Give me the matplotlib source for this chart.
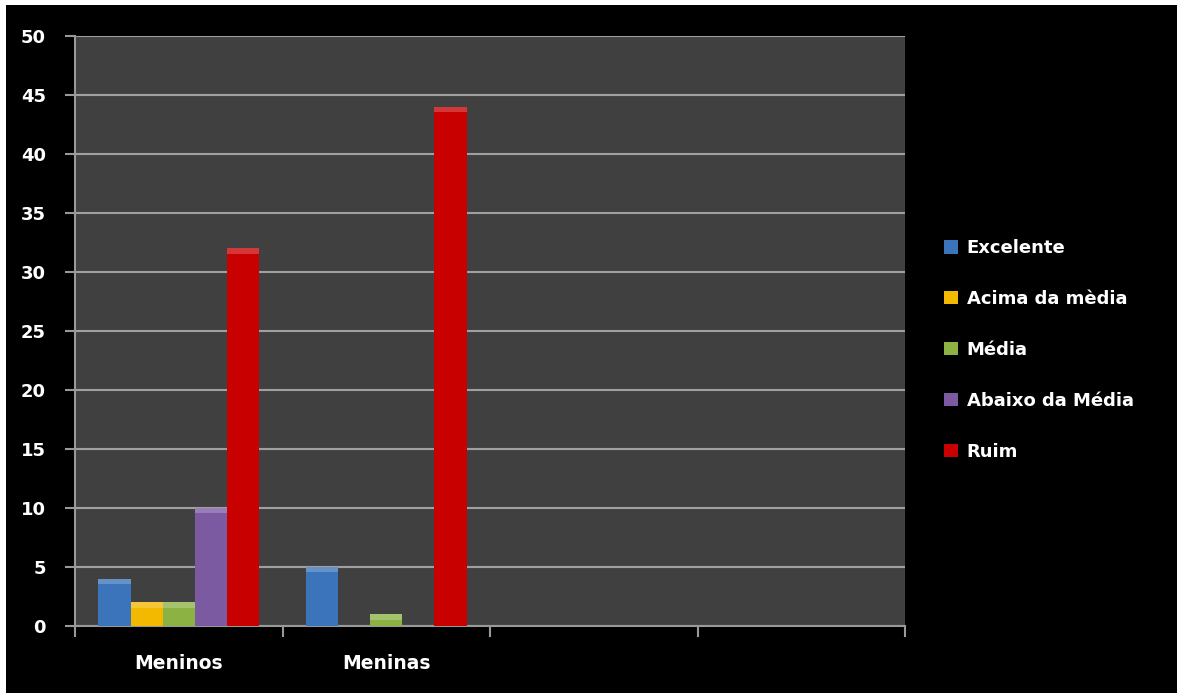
import numpy as np
import matplotlib.pyplot as plt
from matplotlib.patches import Rectangle

categories = ['Meninos', 'Meninas', '', '']
series = ['Excelente', 'Acima da mèdia', 'Média', 'Abaixo da Média', 'Ruim']
excelente = [4, 5, 0, 0]
acima = [2, 0, 0, 0]
media = [2, 1, 0, 0]
abaixo = [10, 0, 0, 0]
ruim = [32, 44, 0, 0]
values = [excelente, acima, media, abaixo, ruim]
colors = ['#3b74ba', '#f3b800', '#8cb244', '#7b5aa2', '#c90000']
yticks = [0, 5, 10, 15, 20, 25, 30, 35, 40, 45, 50]

fig = plt.figure(figsize=(11.77, 6.93), dpi=100, facecolor='white')
fig.patches.append(Rectangle((6 / 1177, 0), 1, 1 - 5 / 693, transform=fig.transFigure,
                             facecolor='black', edgecolor='none', zorder=-1))

ax = fig.add_axes([75 / 1177, 1 - 626 / 693, 830 / 1177, 590 / 693])
ax.set_facecolor('#404040')

x = np.arange(len(categories))
w = 0.155
bars = []
for i, (vals, c) in enumerate(zip(values, colors)):
    pos = x + (i - 2) * w
    v = np.array(vals, dtype=float)
    b = ax.bar(pos, v, width=w, color=c, edgecolor='none', zorder=3)
    bars.append(b)
    # thin light cap for the bevelled look
    cap = np.where(v > 0, np.minimum(v, 0.45), 0)
    ax.bar(pos, cap, bottom=v - cap, width=w, color='white', alpha=0.22,
           edgecolor='none', zorder=4)

ax.set_xlim(-0.5, 3.5)
ax.set_ylim(0, 50)
ax.set_yticks(yticks)
ax.set_yticklabels([str(t) for t in yticks], color='white', fontsize=13, fontweight='bold')
ax.set_xticks(np.arange(-0.5, 4, 1))
ax.set_xticklabels([])
ax.set_xticks(x, minor=True)
ax.set_xticklabels(categories, minor=True, color='white', fontsize=13.5, fontweight='bold')
ax.tick_params(axis='x', which='minor', length=0, pad=20)
ax.tick_params(axis='x', which='major', length=8, color='#999999', width=1.5)
ax.tick_params(axis='y', length=7, color='#999999', width=1.5, pad=14)
ax.yaxis.grid(True, color='#a0a0a0', linewidth=1.5, zorder=1)
ax.set_axisbelow(True)
for s in ['top', 'right']:
    ax.spines[s].set_visible(False)
for s in ['left', 'bottom']:
    ax.spines[s].set_color('#999999')
    ax.spines[s].set_linewidth(1.5)

leg = fig.legend([b.patches[0] for b in bars], series,
                 loc='center left', bbox_to_anchor=(928 / 1177, 1 - 350 / 693),
                 frameon=False, fontsize=13, labelspacing=1.82,
                 handlelength=0.75, handleheight=0.75, handletextpad=0.5)
for t in leg.get_texts():
    t.set_color('white')
    t.set_fontweight('bold')

fig.savefig('out.png', dpi=100, facecolor=fig.get_facecolor())
